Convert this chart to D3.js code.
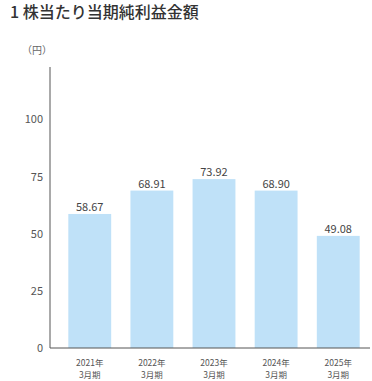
<!DOCTYPE html>
<html>
<head>
<meta charset="utf-8">
<script src="https://cdn.jsdelivr.net/npm/d3@7"></script>
<style>
  body { margin: 0; background: #fff; }
  text { font-family: "Noto Sans CJK JP", "Noto Sans", sans-serif; }
</style>
</head>
<body>
<div id="chart"></div>
<script>
// data
const periods = ["2021年\n3月期", "2022年\n3月期", "2023年\n3月期", "2024年\n3月期", "2025年\n3月期"];
const eps = [58.67, 68.91, 73.92, 68.90, 49.08];
const yTicks = [0, 25, 50, 75, 100];

const width = 372, height = 381;

const svg = d3.select("#chart")
    .append("svg")
    .attr("width", width)
    .attr("height", height);

// title
svg.append("text")
    .attr("x", 10)
    .attr("y", 18)
    .attr("font-size", 16)
    .attr("font-weight", 500)
    .attr("fill", "#333")
    .text("1 株当たり当期純利益金額");

// unit
svg.append("text")
    .attr("x", 22)
    .attr("y", 54)
    .attr("font-size", 10)
    .attr("fill", "#666")
    .text("（円）");

const x = d3.scaleBand()
    .domain(periods)
    .range([59, 369])
    .paddingInner(0.31)
    .paddingOuter(0.15);

const y = d3.scaleLinear()
    .domain([0, 123])
    .range([348, 67]);

// y axis line + labels
svg.append("line")
    .attr("x1", 50).attr("x2", 50)
    .attr("y1", y(123)).attr("y2", y(0))
    .attr("stroke", "#555").attr("stroke-width", 1);

svg.append("g")
    .selectAll("text")
    .data(yTicks)
    .join("text")
        .attr("x", 43)
        .attr("y", d => y(d))
        .attr("dy", "0.35em")
        .attr("text-anchor", "end")
        .attr("font-size", 11)
        .attr("fill", "#555")
        .text(d => d);

// bars
svg.append("g")
    .selectAll("rect")
    .data(eps)
    .join("rect")
        .attr("x", (d, i) => x(periods[i]))
        .attr("y", d => y(d))
        .attr("width", x.bandwidth())
        .attr("height", d => y(0) - y(d))
        .attr("fill", "#bfe1f8");

// value labels
svg.append("g")
    .selectAll("text")
    .data(eps)
    .join("text")
        .attr("x", (d, i) => x(periods[i]) + x.bandwidth() / 2)
        .attr("y", d => y(d) - 3)
        .attr("text-anchor", "middle")
        .attr("font-size", 11)
        .attr("fill", "#444")
        .text(d => d.toFixed(2));

// x axis line
svg.append("line")
    .attr("x1", 50).attr("x2", 370)
    .attr("y1", y(0)).attr("y2", y(0))
    .attr("stroke", "#555").attr("stroke-width", 1);

// category labels
const cat = svg.append("g")
    .selectAll("text")
    .data(periods)
    .join("text")
        .attr("x", d => x(d) + x.bandwidth() / 2)
        .attr("y", 366)
        .attr("text-anchor", "middle")
        .attr("font-size", 8.5)
        .attr("fill", "#555");

cat.selectAll("tspan")
    .data(d => d.split("\n"))
    .join("tspan")
        .attr("x", function() { return d3.select(this.parentNode).attr("x"); })
        .attr("dy", (d, i) => i === 0 ? 0 : 12)
        .text(d => d);
</script>
</body>
</html>
